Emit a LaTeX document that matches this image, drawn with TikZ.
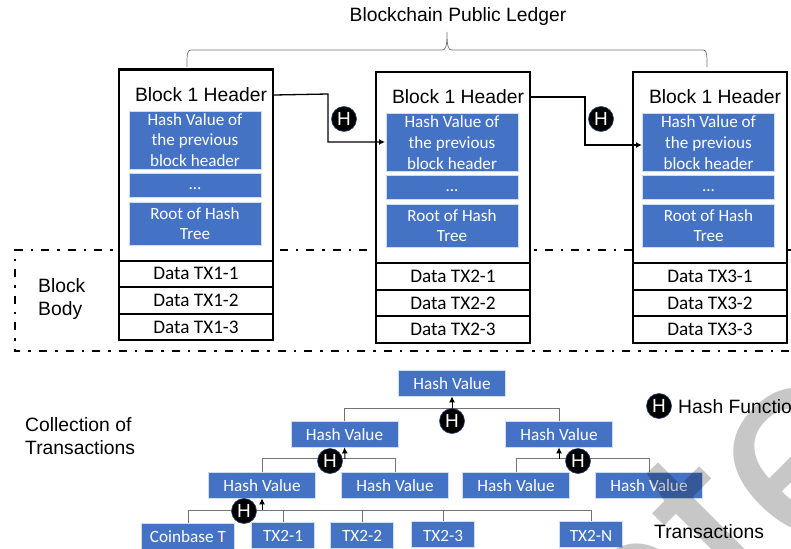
\documentclass[tikz,border=0pt]{standalone}
\usepackage{fontspec}
\setmainfont{Liberation Sans}
\newfontfamily\calfont{Carlito}
\usetikzlibrary{arrows.meta}
\definecolor{bl}{HTML}{4472C4}
\tikzset{
 x=1pt,y=-1pt,
 hdr/.style={font=\fontsize{19.3}{20}\selectfont,inner sep=0,anchor=center},
 lab/.style={font=\fontsize{19.3}{23}\selectfont,inner sep=0,align=left,anchor=west},
 bluebox/.style={fill=bl,draw=white!75!bl,line width=.6pt,text=white,font=\calfont\fontsize{17.1}{20.7}\selectfont,align=center,inner sep=0,minimum width=132pt},
 treebox/.style={fill=bl,draw=white!75!bl,line width=.8pt,text=white,font=\calfont\fontsize{17.2}{18}\selectfont,inner sep=0,minimum height=26pt,text height=13.5pt,text depth=0pt},
 hc/.style={circle,fill=black,draw=bl!60!black,line width=.6pt,text=white,minimum size=25pt,inner sep=0,font=\fontsize{19}{19}\selectfont},
 wire/.style={line width=.9pt,draw=black!55},
 harrow/.style={line width=1.3pt,-{Latex[length=6pt,width=6pt]}},
 uparrow/.style={line width=1pt,-{Latex[length=6pt,width=6pt]}},
 data/.style={draw=black,line width=2pt,fill=white,font=\calfont\fontsize{19.2}{18}\selectfont,inner sep=0,minimum width=154pt,minimum height=26.5pt,anchor=north west},
 box/.style={draw=black,line width=2.2pt,fill=white,minimum width=154pt,minimum height=191pt,inner sep=0,anchor=north west},
}
\begin{document}
\begin{tikzpicture}
\useasboundingbox (0,0) rectangle (791,548);
\clip (0,0) rectangle (791,548);
% dash-dot frame
\draw[line width=1.9pt,dash pattern=on 8pt off 8pt on 2.5pt off 8pt] (791,250) -- (15,250) -- (15,351) -- (791,351);
% brace
\draw[black!55,line width=.7pt] (187,67) .. controls (187,54) and (187,50) .. (191,50) -- (442,50) .. controls (446,50) and (447,46) .. (447,32) .. controls (447,46) and (448,50) .. (452,50) -- (703,50) .. controls (707,50) and (707,54) .. (707,67);
\node[font=\fontsize{19.3}{20}\selectfont,inner sep=0] (title) at (458,17) {Blockchain Public Ledger};
% block 1
\node[box] (b1) at (118,68.5) {};
\node[hdr] (h1) at (201,95) {Block 1 Header};
\node[bluebox,minimum height=58pt] (p1) at (195,140) {Hash Value of\\the previous\\block header};
\node[bluebox,minimum height=24pt] (e1) at (195,185) {\raisebox{-4pt}[0pt][0pt]{...}};
\node[bluebox,minimum height=43pt] (r1) at (195,223.5) {Root of Hash\\Tree};
\node[data] (d11) at (118,259.5) {Data TX1-1};
\node[data] (d12) at (118,286) {Data TX1-2};
\node[data] (d13) at (118,312.7) {Data TX1-3};
% block 2
\node[box] (b2) at (375,71) {};
\node[hdr] (h2) at (458,97) {Block 1 Header};
\node[bluebox,minimum height=58pt] (p2) at (452,142.5) {Hash Value of\\the previous\\block header};
\node[bluebox,minimum height=24pt] (e2) at (452,187) {\raisebox{-4pt}[0pt][0pt]{...}};
\node[bluebox,minimum height=43pt] (r2) at (452,225.5) {Root of Hash\\Tree};
\node[data] (d21) at (375,262) {Data TX2-1};
\node[data] (d22) at (375,288.7) {Data TX2-2};
\node[data] (d23) at (375,315.3) {Data TX2-3};
% block 3
\node[box] (b3) at (632,71) {};
\node[hdr] (h3) at (715,97) {Block 1 Header};
\node[bluebox,minimum height=58pt] (p3) at (708.5,142.5) {Hash Value of\\the previous\\block header};
\node[bluebox,minimum height=24pt] (e3) at (708.5,187) {\raisebox{-4pt}[0pt][0pt]{...}};
\node[bluebox,minimum height=43pt] (r3) at (708.5,225.5) {Root of Hash\\Tree};
\node[data] (d31) at (632,262) {Data TX3-1};
\node[data] (d32) at (632,288.7) {Data TX3-2};
\node[data] (d33) at (632,315.3) {Data TX3-3};
% links
\coordinate (t1) at (385,142);
\coordinate (t2) at (642,145);
\draw[harrow] (b1.east |- h1) -- (328,94) |- (t1);
\draw[harrow] (b2.east |- h2) -- (585,97) |- (t2);
\node[hc] (hx1) at (344,119) {H};
\node[hc] (hx2) at (601,119) {H};
\node[lab] (bb) at (38,299) {Block\\Body};
\node[lab] (ct) at (25,436) {Collection of\\Transactions};
% tree
\node[treebox,minimum width=107pt] (r) at (452,383) {Hash Value};
\node[treebox,minimum width=107pt] (a) at (344.5,434) {Hash Value};
\node[treebox,minimum width=107pt] (c) at (559,434) {Hash Value};
\node[treebox,minimum width=107pt] (a1) at (262,485) {Hash Value};
\node[treebox,minimum width=107pt] (a2) at (395,485) {Hash Value};
\node[treebox,minimum width=107pt] (c1) at (516,485) {Hash Value};
\node[treebox,minimum width=107pt] (c2) at (649,485) {Hash Value};
\node[treebox,minimum width=93pt] (s0) at (188,536) {Coinbase T};
\node[treebox,minimum width=63pt] (s1) at (283,535) {TX2-1};
\node[treebox,minimum width=63pt] (s2) at (362,535) {TX2-2};
\node[treebox,minimum width=63pt] (s3) at (443,534.5) {TX2-3};
\node[treebox,minimum width=63pt] (s4) at (591,534.5) {TX2-N};
% tree wires
\draw[wire] (a.north) -- ++(0,-12.5) -| (c.north);
\draw[wire] (a1.north) -- ++(0,-13) -| (a2.north);
\draw[wire] (c1.north) -- ++(0,-13) -| (c2.north);
\draw[wire] (s0.north) -- (188,510) -- (591,510) -- (s4.north);
\draw[wire] (s1.north) -- (283,510);
\draw[wire] (s2.north) -- (362,510);
\draw[wire] (s3.north) -- (443,510);
\draw[uparrow] (452,409) -- (r.south);
\draw[uparrow] (345,459) -- (a.south);
\draw[uparrow] (559,459) -- (c.south);
\draw[uparrow] (262,510) -- (a1.south);
\node[hc] (n1) at (452,421) {H};
\node[hc] (n2) at (330,461) {H};
\node[hc] (n3) at (578,461) {H};
\node[hc] (n4) at (244,511) {H};
\node[hc] (n5) at (659,406) {H};
\node[inner sep=0,anchor=west,font=\fontsize{19.3}{20}\selectfont] (hf) at (678,406.5) {Hash Function};
\node[inner sep=0,anchor=west,font=\fontsize{19.3}{20}\selectfont] (tr) at (654,532) {Transactions};
% watermark
\node[rotate=45,anchor=base west,inner sep=0,text=black,text opacity=.22,font=\fontsize{270}{270}\selectfont] (wm) at (644,724) {pte};
\end{tikzpicture}
\end{document}
